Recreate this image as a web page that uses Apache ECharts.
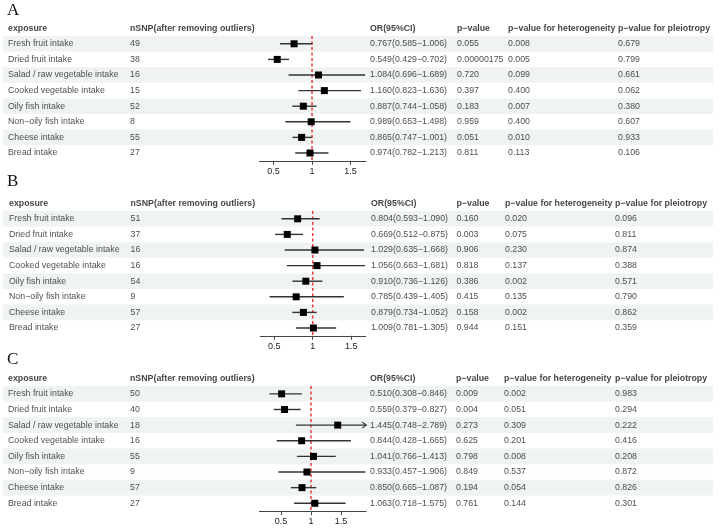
<!DOCTYPE html>
<html><head><meta charset="utf-8">
<script src="https://cdn.jsdelivr.net/npm/echarts@6/dist/echarts.min.js"></script>
<style>html,body{margin:0;padding:0;background:#fff}#c{width:719px;height:531px}</style>
</head><body><div id="c"></div>
<script>
// ---------- data ----------
const exposures = ['Fresh fruit intake','Dried fruit intake','Salad / raw vegetable intake','Cooked vegetable intake','Oily fish intake','Non\u2212oily fish intake','Cheese intake','Bread intake'];
const headers = ['exposure','nSNP(after removing outliers)','OR(95%CI)','p\u2212value','p\u2212value for heterogeneity','p\u2212value for pleiotropy'];
const xTicks = [0.5, 1, 1.5];
const refValue = 1;
const panelLabels = ['A','B','C'];

const nsnpA = [49,38,16,15,52,8,55,27];
const orA = [0.767,0.549,1.084,1.160,0.887,0.989,0.865,0.974];
const loA = [0.585,0.429,0.696,0.823,0.744,0.653,0.747,0.782];
const hiA = [1.006,0.702,1.689,1.636,1.058,1.498,1.001,1.213];
const pA = ['0.055','0.00000175','0.720','0.397','0.183','0.959','0.051','0.811'];
const hetA = ['0.008','0.005','0.099','0.400','0.007','0.400','0.010','0.113'];
const pleioA = ['0.679','0.799','0.661','0.062','0.380','0.607','0.933','0.106'];
const xRangeA = [0.32, 1.70];

const nsnpB = [51,37,16,16,54,9,57,27];
const orB = [0.804,0.669,1.029,1.056,0.910,0.785,0.879,1.009];
const loB = [0.593,0.512,0.635,0.663,0.736,0.439,0.734,0.781];
const hiB = [1.090,0.875,1.668,1.681,1.126,1.405,1.052,1.305];
const pB = ['0.160','0.003','0.906','0.818','0.386','0.415','0.158','0.944'];
const hetB = ['0.020','0.075','0.230','0.137','0.002','0.135','0.002','0.151'];
const pleioB = ['0.096','0.811','0.874','0.388','0.571','0.790','0.862','0.359'];
const xRangeB = [0.32, 1.69];

const nsnpC = [50,40,18,16,55,9,57,27];
const orC = [0.510,0.559,1.445,0.844,1.041,0.933,0.850,1.063];
const loC = [0.308,0.379,0.748,0.428,0.766,0.457,0.665,0.718];
const hiC = [0.846,0.827,2.789,1.665,1.413,1.906,1.087,1.575];
const pC = ['0.009','0.004','0.273','0.625','0.798','0.849','0.194','0.761'];
const hetC = ['0.002','0.051','0.309','0.201','0.008','0.537','0.054','0.144'];
const pleioC = ['0.983','0.294','0.222','0.416','0.208','0.872','0.826','0.301'];
const xRangeC = [0.14, 1.92];

// ---------- assembly ----------
const panels = [
  {nsnp:nsnpA, or:orA, lo:loA, hi:hiA, p:pA, het:hetA, pleio:pleioA, range:xRangeA},
  {nsnp:nsnpB, or:orB, lo:loB, hi:hiB, p:pB, het:hetB, pleio:pleioB, range:xRangeB},
  {nsnp:nsnpC, or:orC, lo:loC, hi:hiC, p:pC, het:hetC, pleio:pleioC, range:xRangeC}
];
// layout (pixels)
const layout = [
  {top:20.4, bottom:160.8, letterTop:2, cols:[8,130,370,457,508,618], fl:259.6, fr:366},
  {top:195.4, bottom:335.8, letterTop:173, cols:[9,130.5,371,456.5,505,615], fl:260.4, fr:365.8},
  {top:370.4, bottom:511.1, letterTop:351, cols:[8,130,370,456,504,615], fl:259.4, fr:366.2}
];
const FONT = '"Liberation Sans", Arial, Helvetica, sans-serif';
const rowsIdx = [0,1,2,3,4,5,6,7,8];
const fIdx = [0,1,2,3,4,5,6,7];

const grids = [], xAxes = [], yAxes = [], series = [], titles = [];
panels.forEach((P, k) => {
  const L = layout[k];
  const H = L.bottom - L.top;
  const rowH = H / 9;
  // table grid
  grids.push({left:0, width:719, top:L.top, height:H});
  xAxes.push({type:'value', gridIndex:2*k, min:0, max:719, show:false});
  yAxes.push({type:'category', gridIndex:2*k, data:rowsIdx, inverse:true, show:false});
  // forest grid
  grids.push({left:L.fl, width:L.fr - L.fl, top:L.top + rowH, height:H - rowH});
  xAxes.push({type:'value', gridIndex:2*k+1, min:P.range[0], max:P.range[1],
    axisLine:{show:true, lineStyle:{color:'#444', width:1}},
    axisTick:{show:true, length:4, customValues:xTicks, lineStyle:{color:'#444'}},
    axisLabel:{show:true, customValues:xTicks, fontSize:9, color:'#222', margin:6, fontFamily:FONT},
    splitLine:{show:false}});
  yAxes.push({type:'category', gridIndex:2*k+1, data:fIdx, inverse:true, show:false});

  // shading bands
  series.push({type:'custom', xAxisIndex:2*k, yAxisIndex:2*k, silent:true, z:1,
    data:[1,3,5,7].map(r => [3, r, 713]),
    renderItem:(params, api) => {
      const p0 = api.coord([api.value(0), api.value(1)]);
      const p1 = api.coord([api.value(2), api.value(1)]);
      const h = api.size([0,1])[1];
      return {type:'rect', shape:{x:p0[0], y:p0[1]-h/2, width:p1[0]-p0[0], height:h}, style:{fill:'#eff3f2'}};
    }});

  // text cells
  const cells = [];
  headers.forEach((h, c) => cells.push({name:h, value:[L.cols[c], 0], label:{fontWeight:'bold', color:'#111'}}));
  exposures.forEach((e, i) => {
    const r = i + 1;
    const orTxt = P.or[i].toFixed(3) + '(' + P.lo[i].toFixed(3) + '\u2212' + P.hi[i].toFixed(3) + ')';
    [e, String(P.nsnp[i]), orTxt, P.p[i], P.het[i], P.pleio[i]].forEach((t, c) =>
      cells.push({name:t, value:[L.cols[c], r]}));
  });
  series.push({type:'scatter', xAxisIndex:2*k, yAxisIndex:2*k, silent:true, z:5,
    symbolSize:0, data:cells,
    label:{show:true, position:'right', distance:0, formatter:'{b}', fontSize:8.8, color:'#222', fontFamily:FONT}});

  // reference dashed line (through the axis scale)
  series.push({type:'custom', xAxisIndex:2*k+1, yAxisIndex:2*k+1, silent:true, z:3, clip:false,
    data:[[refValue, 0, 7]],
    renderItem:(params, api) => {
      const t = api.coord([api.value(0), api.value(1)]);
      const b = api.coord([api.value(0), api.value(2)]);
      const h = api.size([0,1])[1];
      return {type:'line', shape:{x1:t[0], y1:t[1]-h/2, x2:t[0], y2:b[1]+h/2},
        style:{stroke:'#f03a3a', lineWidth:1.5, lineDash:[3,2.5]}};
    }});

  // CI + point estimates
  const rng = P.range;
  series.push({type:'custom', xAxisIndex:2*k+1, yAxisIndex:2*k+1, silent:true, z:6, clip:false,
    data:fIdx.map(i => [P.or[i], i, P.lo[i], P.hi[i]]),
    renderItem:(params, api) => {
      const row = api.value(1);
      const lo = Math.max(api.value(2), rng[0]);
      const hiRaw = api.value(3);
      const hi = Math.min(hiRaw, rng[1]);
      const c = api.coord([api.value(0), row]);
      const pl = api.coord([lo, row]), ph = api.coord([hi, row]);
      const ch = [
        {type:'line', shape:{x1:pl[0], y1:pl[1], x2:ph[0], y2:ph[1]}, style:{stroke:'#333', lineWidth:1.4}}
      ];
      if (hiRaw > rng[1]) {
        ch.push({type:'polyline', shape:{points:[[ph[0]-4, ph[1]-3],[ph[0], ph[1]],[ph[0]-4, ph[1]+3]]}, style:{stroke:'#333', lineWidth:1.2, fill:null}});
      }
      ch.push({type:'rect', shape:{x:c[0]-3.5, y:c[1]-3.5, width:7, height:7}, style:{fill:'#000'}});
      return {type:'group', children:ch};
    }});

  titles.push({text:panelLabels[k], left:7, top:L.letterTop, padding:0,
    textStyle:{fontFamily:'"Liberation Serif", "Times New Roman", serif', fontSize:17, fontWeight:'normal', color:'#111'}});
});

const chart = echarts.init(document.getElementById('c'), null, {renderer:'canvas'});
chart.setOption({animation:false, backgroundColor:'#fff', title:titles, grid:grids, xAxis:xAxes, yAxis:yAxes, series:series});
</script></body></html>
